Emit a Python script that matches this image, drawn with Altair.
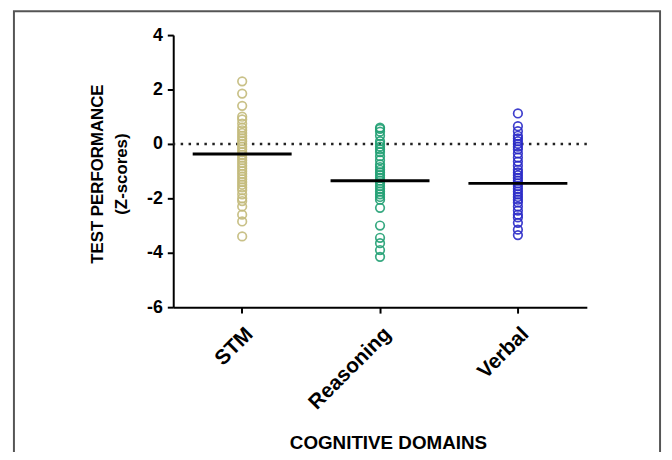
import altair as alt
import pandas as pd

categories = ["STM", "Reasoning", "Verbal"]
stm = [2.3, 1.85, 1.4, 1.0, 0.9, 0.75, 0.6, 0.5, 0.4, 0.3, 0.2, 0.1, 0.0, -0.1, -0.2,
       -0.3, -0.4, -0.5, -0.6, -0.7, -0.8, -0.9, -1.0, -1.1, -1.2, -1.3, -1.4, -1.5,
       -1.6, -1.7, -1.85, -2.0, -2.1, -2.3, -2.6, -2.85, -3.4]
reasoning = [0.6, 0.55, 0.45, 0.3, 0.1, 0.0, -0.1, -0.2, -0.3, -0.45, -0.6, -0.75, -0.85,
             -0.95, -1.05, -1.15, -1.25, -1.35, -1.45, -1.55, -1.65, -1.75, -1.85, -1.95,
             -2.05, -2.35, -3.0, -3.45, -3.65, -3.9, -4.15]
verbal = [1.12, 0.65, 0.47, 0.3, 0.2, 0.1, 0.0, -0.1, -0.2, -0.35, -0.5, -0.65, -0.8,
          -0.95, -1.05, -1.15, -1.25, -1.35, -1.45, -1.55, -1.65, -1.75, -1.85, -1.95,
          -2.05, -2.15, -2.3, -2.45, -2.6, -2.7, -2.9, -3.15, -3.35]
means = [-0.37, -1.35, -1.45]
colors = ["#c4bb7c", "#22a074", "#2b2bc8"]

rows = []
for cat, vals in zip(categories, [stm, reasoning, verbal]):
    for v in vals:
        rows.append({"domain": cat, "z": v})
pts_df = pd.DataFrame(rows)
mean_df = pd.DataFrame({"domain": categories, "z": means})
zero_df = pd.DataFrame({"z": [0]})

FONT = "Liberation Sans"

xenc = alt.X("domain:N", sort=categories,
             scale=alt.Scale(paddingInner=0, paddingOuter=0),
             axis=alt.Axis(title="COGNITIVE DOMAINS", labelAngle=-45, labelFontSize=21,
                           labelPadding=10, titleX=217, titleAlign="center",
                           titleY=137, titleBaseline="middle", titleFontSize=19))
yscale = alt.Scale(domain=[-6, 4], nice=False, zero=False)
yaxis = alt.Axis(title=["TEST PERFORMANCE", "(Z-scores)"], values=[-6, -4, -2, 0, 2, 4],
                 labelExpr="'' + datum.value",
                 titleX=-76, titleY=140, titleBaseline="middle", titleAngle=-90,
                 titleAlign="center", titleLineHeight=24, labelFontSize=18,
                 titleFontSize=17)

frame = alt.Chart(alt.Data(values=[{"a": 1}])).mark_rect(
    fill=None, stroke="#555555", strokeWidth=2
).encode(x=alt.value(-161), x2=alt.value(492), y=alt.value(-24), y2=alt.value(460))

zero = alt.Chart(zero_df).mark_rule(
    color="#222222", strokeWidth=2.5, strokeDash=[2.5, 5.5]
).encode(y=alt.Y("z:Q", scale=yscale, axis=yaxis))

points = alt.Chart(pts_df).mark_point(
    shape="circle", filled=False, size=75, strokeWidth=1.7, opacity=0.9
).encode(
    x=xenc,
    y=alt.Y("z:Q", scale=yscale, axis=yaxis),
    color=alt.Color("domain:N", sort=categories,
                    scale=alt.Scale(domain=categories, range=colors), legend=None),
)

mean_ticks = alt.Chart(mean_df).mark_tick(
    color="black", thickness=3, size=100, opacity=1
).encode(x=xenc, y=alt.Y("z:Q", scale=yscale, axis=yaxis))

chart = alt.layer(frame, zero, points, mean_ticks).properties(
    width=418, height=275,
    autosize=alt.AutoSizeParams(type="none"),
    padding={"left": 167, "top": 25, "right": 78, "bottom": 144},
).configure_view(stroke=None).configure_axis(
    grid=False,
    domainColor="black", domainWidth=2,
    tickColor="black", tickWidth=2, tickSize=6,
    labelFont=FONT, labelFontWeight="bold", labelColor="black",
    titleFont=FONT, titleFontWeight="bold", titleColor="black",
    labelPadding=5,
)

chart.save("out.html", embed_options={"renderer": "svg", "actions": False})
